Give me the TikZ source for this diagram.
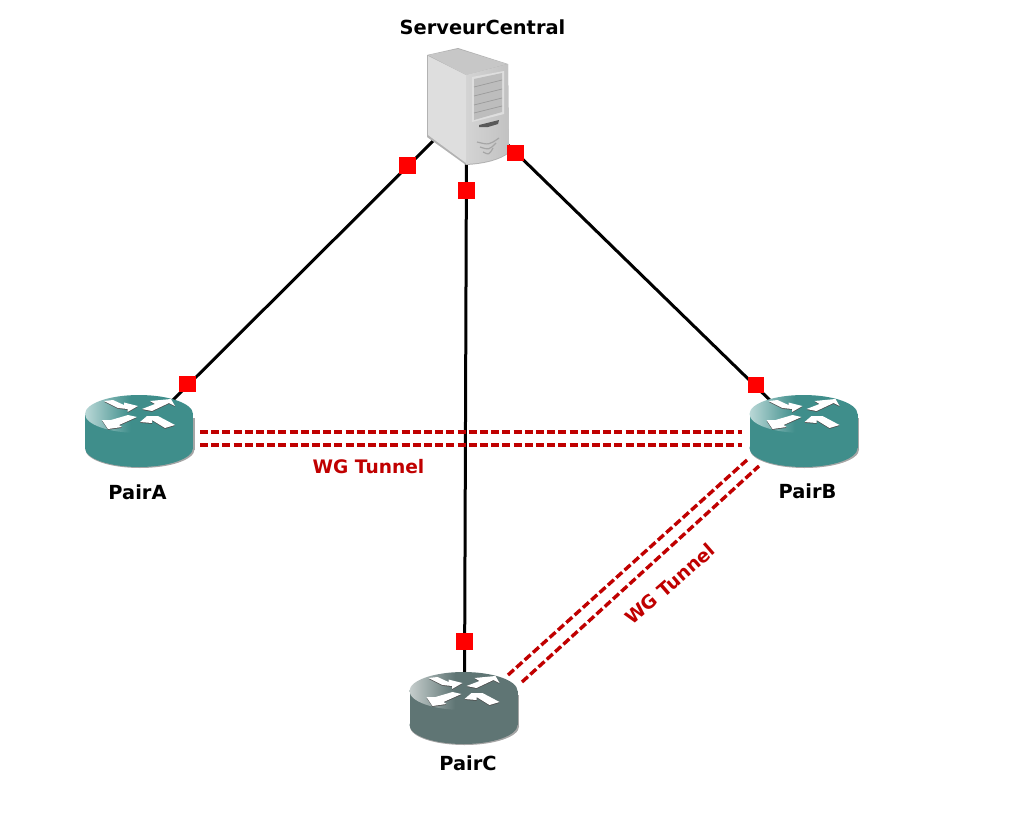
\documentclass[tikz,border=0pt]{standalone}
\usepackage{fontspec}
\setmainfont{DejaVu Sans}
\usetikzlibrary{positioning}
\definecolor{wgred}{HTML}{C00000}
\definecolor{tealbase}{HTML}{3F8E8B}
\definecolor{teallight}{HTML}{BAD8D7}
\definecolor{greybase}{HTML}{5F7574}
\definecolor{greylight}{HTML}{C6CECD}
\pgfdeclarehorizontalshading{tealtop}{100bp}{color(0bp)=(teallight); color(25bp)=(teallight); color(46bp)=(tealbase); color(100bp)=(tealbase)}
\pgfdeclarehorizontalshading{greytop}{100bp}{color(0bp)=(greylight); color(25bp)=(greylight); color(46bp)=(greybase); color(100bp)=(greybase)}
\tikzset{
  link/.style={line width=3pt,black},
  tunnel/.style={line width=3.4pt,wgred,dash pattern=on 8pt off 3.2pt},
  port/.style={fill=red,inner sep=0pt,minimum size=16.5pt,draw=none},
  devname/.style={font=\fontsize{19.4}{20}\selectfont\bfseries,inner sep=0pt},
  wglabel/.style={font=\fontsize{18.6}{19}\selectfont\bfseries,text=wgred,inner sep=0pt}
}
% router icon: centre of the top disc at (#1,#2), body colour #3, shading of the top #4
\newcommand{\drawrouter}[4]{
  \begin{scope}[shift={(#1,#2)}]
    % shadow and body
    \fill[black!35] (55.5,4) rectangle (-48,36);
    \fill[black!35] (1,35.5) ellipse [x radius=54.5,y radius=18.5];
    \fill[#3] (-54,0) rectangle (54,34);
    \fill[#3] (0,34) ellipse [x radius=54,y radius=19];
    \shade[shading=#4] (0,0) ellipse [x radius=54,y radius=19];
    % the four arrows, dark edge first
    \foreach \up/\tone in {-0.8/black!70,0/white} {
      \begin{scope}[yshift=\up pt]
        \fill[\tone] (-35,-13) -- (-26,-14) -- (-15,-9) -- (-15,-11.5) -- (-1,-8) -- (-11.5,-2) -- (-11.5,-5) -- (-21,-6) -- cycle;
        \fill[\tone] (3,-5) -- (16,-10) -- (11,-13) -- (32,-15) -- (36,-8) -- (30,-11) -- (13,-3) -- cycle;
        \fill[\tone] (-37,6) -- (-28,6) -- (-11,1) -- (-2,3) -- (-20,11) -- (-17,13) -- (-31,15) -- cycle;
        \fill[\tone] (1,8) -- (8,2) -- (19,2) -- (36,11) -- (26,14) -- (13,6) -- (13,9) -- cycle;
      \end{scope}
    }
  \end{scope}
}
\begin{document}
\begin{tikzpicture}[x=1pt,y=-1pt]
  \useasboundingbox (0,0) rectangle (1011,835);

  % end points of the links, under the icons
  \coordinate (srvA) at (440,134);
  \coordinate (srvB) at (505,142);
  \coordinate (srvC) at (466.5,150);
  \coordinate (pairAtop) at (165,408);
  \coordinate (pairBtop) at (778,408);
  \coordinate (pairCtop) at (464.5,690);

  \draw[link] (srvA) -- (pairAtop);
  \draw[link] (srvB) -- (pairBtop);
  \draw[link] (srvC) -- (pairCtop);

  % routers
  \drawrouter{139}{414}{tealbase}{tealtop}
  \drawrouter{803.5}{414}{tealbase}{tealtop}
  \drawrouter{463.5}{691}{greybase}{greytop}

  % server tower
  \fill[black!30] (427,55) -- (427,137) -- (466,165) .. controls (485,164) and (500,160) .. (509,153) -- (508,64) -- (458,48) -- cycle;
  \fill[black!13] (428,56) -- (428,135) -- (466,163) -- (466,75) -- cycle;
  \fill[black!22] (428,55) -- (458,49) -- (507,64) -- (466,75) -- cycle;
  \shade[left color=black!17,right color=black!24] (466,75) -- (508,64) -- (509,152) .. controls (500,159) and (485,163) .. (466,164) -- cycle;
  \fill[black!13] (472,77) -- (504,71) -- (504,114) -- (472,122) -- cycle;
  \fill[black!26] (474,79) -- (502,73) -- (502,112) -- (474,120) -- cycle;
  \foreach \y in {0,9,18,26}
    \draw[black!40,line width=0.7pt] (474,87+\y) -- (502,80+\y);
  \fill[black!65] (479,125) -- (499,120) -- (498,124) -- (488,127) -- (479,127) -- cycle;
  \foreach \y/\w in {0/11,5/8,10/5}
    \draw[black!35,line width=1.2pt] (488-\w,142+\y) .. controls (489,145+\y) .. (488+\w,138+\y);

  % ports on the links
  \node[port] (portSA) at (407.5,165.5) {};
  \node[port] (portSB) at (515.5,153) {};
  \node[port] (portSC) at (466.5,190.5) {};
  \node[port] (portA) at (187.5,384) {};
  \node[port] (portB) at (756,385) {};
  \node[port] (portC) at (464.5,641.5) {};

  % tunnels
  \coordinate (tunA1) at (200,432);
  \coordinate (tunB1) at (742,432);
  \coordinate (tunA2) at (200,445);
  \coordinate (tunB2) at (742,445);
  \coordinate (tunC1) at (508,675);
  \coordinate (tunD1) at (747,460);
  \coordinate (tunC2) at (522,682);
  \coordinate (tunD2) at (759,466);
  \draw[tunnel] (tunA1) -- (tunB1);
  \draw[tunnel] (tunA2) -- (tunB2);
  \draw[tunnel] (tunC1) -- (tunD1);
  \draw[tunnel] (tunC2) -- (tunD2);

  % labels
  \node[devname] (labServer) at (482.5,27) {ServeurCentral};
  \node[devname] (labA) at (137.5,492) {PairA};
  \node[devname] (labB) at (807.5,491) {PairB};
  \node[devname] (labC) at (468,763) {PairC};
  \node[wglabel] (labAB) at (368.5,467) {WG Tunnel};
  \node[wglabel,rotate=41] (labBC) at (670,584) {WG Tunnel};
\end{tikzpicture}
\end{document}
